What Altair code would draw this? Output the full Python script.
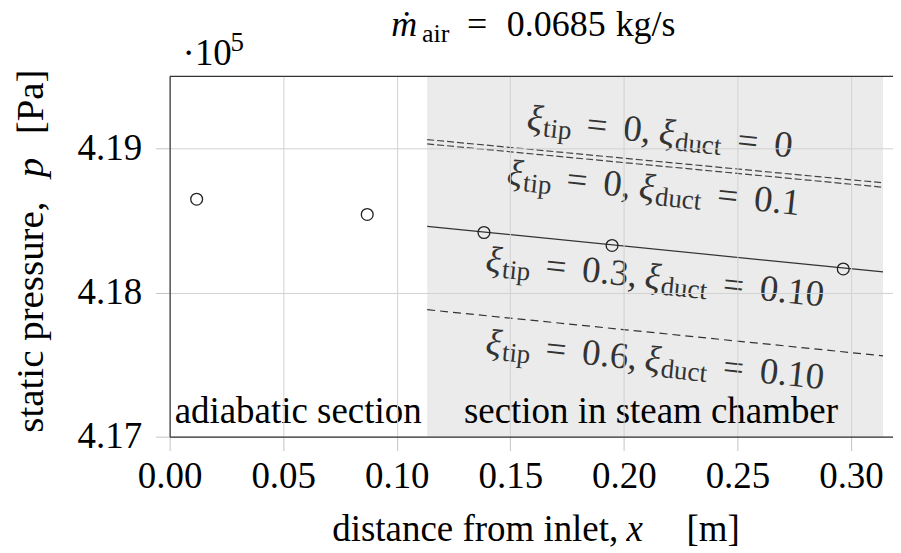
import altair as alt
import pandas as pd

FONT = "Liberation Serif"

# ---------------- data ----------------
point_x = [0.0119, 0.0870, 0.1384, 0.1948, 0.2966]
point_p = [418648, 418542, 418417, 418327, 418164]

line_x = [0.1134, 0.3141]
line_p_tip0_duct0 = [419062, 418762]
line_p_tip0_duct01 = [419032, 418731]
line_p_tip03 = [418460, 418143]
line_p_tip06 = [417881, 417561]

steam_start = 0.1134
steam_end = 0.3141

x_ticks = [0.0, 0.05, 0.10, 0.15, 0.20, 0.25, 0.30]
p_ticks = [417000, 418000, 419000]
x_domain = [0.0, 0.3185]
p_domain = [417000, 419500]

# label anchors (x, p) and pieces (text, kind, offset along baseline)
label_anchor_x = [0.1569, 0.1481, 0.1388, 0.1388]
label_anchor_p = [419131, 418751, 418150, 417576]
label_pieces = [
    [("ξ", "i", 0), ("tip", "s", 17), ("=", "m", 60), ("0,", "m", 97),
     ("ξ", "i", 133), ("duct", "s", 150), ("=", "m", 212), ("0", "m", 249)],
    [("ξ", "i", 0), ("tip", "s", 17), ("=", "m", 60), ("0,", "m", 97),
     ("ξ", "i", 133), ("duct", "s", 150), ("=", "m", 212), ("0.1", "m", 249)],
    [("ξ", "i", 0), ("tip", "s", 17), ("=", "m", 60), ("0.3,", "m", 97),
     ("ξ", "i", 160), ("duct", "s", 177), ("=", "m", 239), ("0.10", "m", 276)],
    [("ξ", "i", 0), ("tip", "s", 17), ("=", "m", 60), ("0.6,", "m", 97),
     ("ξ", "i", 160), ("duct", "s", 177), ("=", "m", 239), ("0.10", "m", 276)],
]

section_x = [0.0022, 0.1296]
section_p = [417093, 417093]
section_text = ["adiabatic section", "section in steam chamber"]

W, H = 725, 361

# ---------------- scales / axes ----------------
xs = alt.Scale(domain=x_domain, nice=False, zero=False)
ys = alt.Scale(domain=p_domain, nice=False, zero=False)

common_axis = dict(
    title=None,
    labelFont=FONT, labelFontSize=37, labelColor="black",
    labelFlush=False, labelOverlap=False,
    tickSize=14, tickColor="#c4c4c4", tickWidth=1,
    domainColor="#333333", domainWidth=1.2,
    gridColor="#d2d2d2", gridWidth=1, zindex=1,
)
xaxis = alt.Axis(values=x_ticks, format=".2f", labelPadding=8, **common_axis)
yaxis = alt.Axis(values=p_ticks, labelExpr="format(datum.value/100000, '.2f')",
                 labelPadding=14, **common_axis)


def X(f):
    return alt.X(f"{f}:Q", scale=xs, axis=xaxis)


def Y(f):
    return alt.Y(f"{f}:Q", scale=ys, axis=yaxis)


layers = []

# shaded steam chamber section
shade = pd.DataFrame({"x": [steam_start], "x2": [steam_end],
                      "p": [p_domain[0]], "p2": [p_domain[1]]})
layers.append(alt.Chart(shade).mark_rect(color="#ebebeb").encode(
    x=X("x"), x2="x2", y=Y("p"), y2="p2"))

# model lines
def line_df(name, vals):
    return pd.DataFrame({"x": line_x, "p": vals, "s": [name] * len(vals)})

dbl = pd.concat([line_df("a", line_p_tip0_duct0), line_df("b", line_p_tip0_duct01)])
layers.append(alt.Chart(dbl).mark_line(color="#444444", strokeWidth=1.2,
                                        strokeDash=[7, 3]).encode(
    x=X("x"), y=Y("p"), detail="s:N"))
layers.append(alt.Chart(line_df("c", line_p_tip03)).mark_line(
    color="#333333", strokeWidth=1.2).encode(x=X("x"), y=Y("p")))
layers.append(alt.Chart(line_df("d", line_p_tip06)).mark_line(
    color="#333333", strokeWidth=1.2, strokeDash=[8, 5]).encode(x=X("x"), y=Y("p")))

# measured points
pts = pd.DataFrame({"x": point_x, "p": point_p})
layers.append(alt.Chart(pts).mark_point(shape="circle", size=140, filled=False,
                                         stroke="#222222", strokeWidth=1.3,
                                         opacity=1).encode(x=X("x"), y=Y("p")))

# rotated ξ labels built from pieces
for lx, lp, pieces in zip(label_anchor_x, label_anchor_p, label_pieces):
    for txt, kind, off in pieces:
        d = pd.DataFrame({"x": [lx], "p": [lp], "t": [txt]})
        fs = 27 if kind == "s" else 37
        dy = 5 if kind == "s" else 0
        style = "italic" if kind == "i" else "normal"
        layers.append(alt.Chart(d).mark_text(
            align="left", baseline="alphabetic", angle=6, dx=off, dy=dy,
            font=FONT, fontSize=fs, fontStyle=style, color="#333333").encode(
            x=X("x"), y=Y("p"), text="t:N"))

# section labels
sec = pd.DataFrame({"x": section_x, "p": section_p, "t": section_text})
layers.append(alt.Chart(sec).mark_text(align="left", baseline="alphabetic",
                                        font=FONT, fontSize=37, color="black").encode(
    x=X("x"), y=Y("p"), text="t:N"))

# top frame line
top = pd.DataFrame({"x": [x_domain[0]], "x2": [x_domain[1]], "p": [p_domain[1]]})
layers.append(alt.Chart(top).mark_rule(color="#333333", strokeWidth=1.2).encode(
    x=X("x"), x2="x2", y=Y("p")))

# title, exponent and axis titles (pixel positions relative to the plot area)
header = [
    ("ṁ", 222, -41, 36, "italic", 0),
    ("air", 253, -35, 26, "normal", 0),
    ("=", 298, -41, 36, "normal", 0),
    ("0.0685", 338, -41, 36, "normal", 0),
    ("kg/s", 447, -41, 36, "normal", 0),
    ("·10", 13, -11, 37, "normal", 0),
    ("5", 61, -26, 27, "normal", 0),
    ("distance from inlet,", 163, 466, 37, "normal", 0),
    ("x", 458, 466, 37, "italic", 0),
    ("[m]", 518, 466, 37, "normal", 0),
    ("static pressure,", -127, 357, 39, "normal", 270),
    ("p", -127, 101, 39, "italic", 270),
    ("[Pa]", -127, 58, 39, "normal", 270),
]
for txt, px, py, fs, st, ang in header:
    d = pd.DataFrame({"t": [txt]})
    layers.append(alt.Chart(d).mark_text(
        align="left", baseline="alphabetic", font=FONT, fontSize=fs,
        fontStyle=st, angle=ang, color="black").encode(
        x=alt.value(px), y=alt.value(py), text="t:N"))

chart = alt.layer(*layers).properties(
    width=W, height=H,
    autosize=alt.AutoSizeParams(type="none"),
    padding={"left": 162, "top": 68, "right": 0, "bottom": 116},
    background="white",
).configure_view(stroke=None)

chart.save("out.html", embed_options={"renderer": "svg", "actions": False})
